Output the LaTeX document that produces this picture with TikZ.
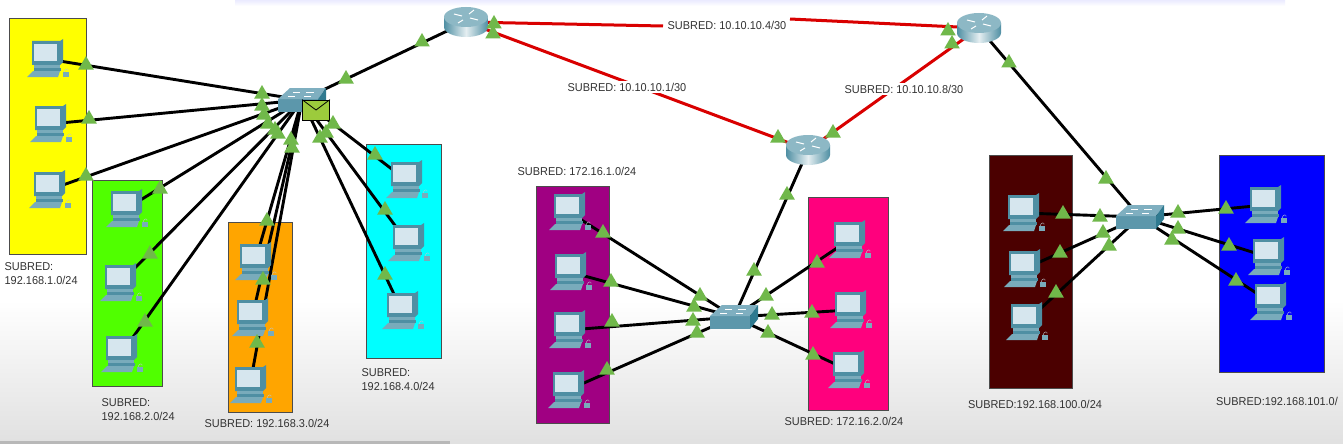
\documentclass[tikz,border=0pt]{standalone}
\usepackage{fontspec}
\setmainfont{Liberation Sans}
\usetikzlibrary{shapes.geometric}
\definecolor{pcdark}{HTML}{4F8FA3}
\definecolor{pcmid}{HTML}{79ABBB}
\definecolor{pcscreen}{HTML}{D6E6EE}
\definecolor{tri}{HTML}{70B84A}
\definecolor{swtop}{HTML}{7FAFC0}
\definecolor{swfront}{HTML}{5C97AB}
\definecolor{swside}{HTML}{2F7A90}
\definecolor{mailc}{HTML}{9CCB3C}
\tikzset{
  x=1pt,y=-1pt,
  area/.style={draw=black!70,line width=.8pt,anchor=north west,inner sep=0pt},
  wire/.style={draw=black,line width=2.9pt},
  redwire/.style={draw=red!85!black,line width=3pt},
  marker/.style={regular polygon,regular polygon sides=3,fill=tri,minimum size=18pt,inner sep=0pt},
  sublabel/.style={font=\fontsize{11.4}{14}\selectfont,text=black!80,inner sep=1.5pt,align=left,xscale=.96},
  patch/.style={sublabel,fill=white},
  comp/.pic={
    \fill[pcdark] (-15,-18) -- (13,-18) -- (16,-20) -- (16,3) -- (13,6) -- (-15,6) -- cycle;
    \fill[pcscreen] (-13,-15) rectangle (10,2);
    \fill[pcmid] (-13,6) -- (13,6) -- (13,9) -- (-13,9) -- cycle;
    \fill[pcdark] (-13,9) rectangle (14,12);
    \fill[pcmid] (-14,12) -- (13,12) -- (11,18) -- (-20,18) -- cycle;
    \fill[pcmid] (16,13) rectangle (22,18);
    \draw[pcscreen!70!gray,line width=.4pt] (17,13) .. controls (18,9) and (22,9) .. (21,12);
  },
  routr/.pic={
    \shade[left color=pcdark,right color=pcdark,middle color=white!85!pcdark] (-22,-5) -- (-22,5) arc[start angle=180,end angle=0,x radius=22,y radius=10] -- (22,-5) -- cycle;
    \fill[pcmid!85!white] (0,-5) ellipse[x radius=22,y radius=10];
    \draw[white,line width=1pt] (-12,-8) -- (-4,-6) (12,-2) -- (4,-4) (3,-8) -- (8,-12) (-3,-2) -- (-8,1);
  },
  swtch/.pic={
    \fill[swfront] (-24,-1) -- (16,-1) -- (16,12) -- (-24,12) -- cycle;
    \fill[swtop] (-24,-1) -- (-12,-12) -- (24,-12) -- (16,-1) -- cycle;
    \fill[swside] (16,-1) -- (24,-12) -- (24,2) -- (16,12) -- cycle;
    \draw[white,line width=.5pt] (-9,-8) -- (-2,-8) (4,-8) -- (12,-8) (-14,-4) -- (-7,-4) (2,-4) -- (9,-4);
  }
}
\begin{document}
\begin{tikzpicture}
\useasboundingbox (0,0) rectangle (1343,444);
\fill[white] (0,0) rectangle (1343,444);
\shade[top color=white,bottom color=black!12] (0,300) rectangle (1343,444);
\shade[top color=blue!8!white,bottom color=white] (235,0) rectangle (1285,6);
\fill[black!28] (0,441) rectangle (450,444);
% device positions
\foreach \n/\x/\y in {
  a1/47/59,a2/50/124,a3/49/190,
  b1/126/209,b2/120/283,b3/121/354,
  c1/255/262,c2/252/318,c3/250/385,
  d1/406/180,d2/408/243,d3/402/311,
  e1/569/212,e2/570/272,e3/569/330,e4/568/390,
  f1/849/240,f2/850/310,f3/848/370,
  g1/1023/213,g2/1024/269,g3/1026/322,
  h1/1265/205,h2/1268/257,h3/1270/302,
  sw1/302/100,sw2/734/317,sw3/1140/217,
  r1/466/22,r2/808/150,r3/979/28,
  j1/663/26,j2/790/19}
  {\coordinate (\n) at (\x,\y);}
% coloured areas
\node[area,fill={rgb,255:red,255;green,255;blue,0},minimum width=77pt,minimum height=236pt] (ya) at (9,18) {};
\node[area,fill={rgb,255:red,80;green,255;blue,0},minimum width=70pt,minimum height=206pt] (gr) at (92,180) {};
\node[area,fill={rgb,255:red,255;green,165;blue,0},minimum width=64pt,minimum height=190pt] (or) at (228,222) {};
\node[area,fill={rgb,255:red,0;green,255;blue,255},minimum width=75pt,minimum height=214pt] (cy) at (366,144) {};
\node[area,fill={rgb,255:red,160;green,0;blue,130},minimum width=73pt,minimum height=237pt] (pu) at (536,186) {};
\node[area,fill={rgb,255:red,255;green,0;blue,125},minimum width=80pt,minimum height=213pt] (pk) at (808,197) {};
\node[area,fill={rgb,255:red,75;green,0;blue,0},minimum width=83pt,minimum height=233pt] (dr) at (989,155) {};
\node[area,fill={rgb,255:red,0;green,0;blue,255},minimum width=105pt,minimum height=217pt] (bl) at (1219,155) {};
% wires
\foreach \p in {a1,a2,a3,b1,b2,b3,c1,c2,c3,d1,d2,d3} \draw[wire] (\p) -- (sw1);
\foreach \p in {e1,e2,e3,e4,f1,f2,f3} \draw[wire] (\p) -- (sw2);
\foreach \p in {g1,g2,g3,h1,h2,h3} \draw[wire] (\p) -- (sw3);
\draw[wire] (sw1) -- (r1);
\draw[wire] (sw2) -- (r2);
\draw[wire] (sw3) -- (r3);
\draw[redwire] (r1) -- (r2);
\draw[redwire] (r2) -- (r3);
\draw[redwire] (r1) -- (j1);
\draw[redwire] (j2) -- (r3);
% devices
\foreach \p in {a1,a2,a3,b1,b2,b3,c1,c2,c3,d1,d2,d3,e1,e2,e3,e4,f1,f2,f3,g1,g2,g3,h1,h2,h3}
  \pic at (\p) {comp};
\foreach \p in {sw1,sw2,sw3} \pic at (\p) {swtch};
\foreach \p in {r1,r2,r3} \pic at (\p) {routr};
% envelope
\node[draw=black,line width=.8pt,fill=mailc,minimum width=27pt,minimum height=20pt,inner sep=0pt] (mail) at (316,110) {};
\draw[black,line width=.8pt] (mail.north west) -- (mail.center) -- (mail.north east);
% link lights
\foreach \x/\y [count=\i] in {
  86/65,89/119,86/176,160/189,150/254,145/322,
  262/94,262/106,264/115,268/124,275/130,278/134,291/140,292/148,
  267/221,263/280,257/343,
  320/138,326/133,333/124,375/155,385/210,385/275,
  346/79,422/42,494/24,493/34,948/31,952/44,1009/63,
  778/138,833/133,787/195,754/271,766/296,817/263,772/315,812/313,768/333,813/355,
  700/296,694/307,693/321,697/333,603/233,611/282,612/322,607/370,
  1106/179,1063/214,1100/217,1103/233,1109/246,1060/253,1056/293,
  1178/213,1178/229,1172/240,1226/209,1229/246,1236/281}
  \node[marker] (t\i) at (\x,\y) {};
% labels
\node[patch,anchor=center] (l1) at (727,25) {SUBRED: 10.10.10.4/30};
\node[patch,anchor=center] (l2) at (627,87) {SUBRED: 10.10.10.1/30};
\node[patch,anchor=center] (l3) at (904,89) {SUBRED: 10.10.10.8/30};
\node[sublabel,anchor=north west] (l4) at (3,261) {SUBRED:\\192.168.1.0/24};
\node[sublabel,anchor=north west] (l5) at (100,397) {SUBRED:\\192.168.2.0/24};
\node[sublabel,anchor=center] (l6) at (267,423) {SUBRED: 192.168.3.0/24};
\node[sublabel,anchor=north west] (l7) at (360,367) {SUBRED:\\192.168.4.0/24};
\node[sublabel,anchor=center] (l8) at (577,171) {SUBRED: 172.16.1.0/24};
\node[sublabel,anchor=center] (l9) at (844,421) {SUBRED: 172.16.2.0/24};
\node[sublabel,anchor=center] (l10) at (1035,404) {SUBRED:192.168.100.0/24};
\node[sublabel,anchor=center] (l11) at (1277,401) {SUBRED:192.168.101.0/};
\end{tikzpicture}
\end{document}
